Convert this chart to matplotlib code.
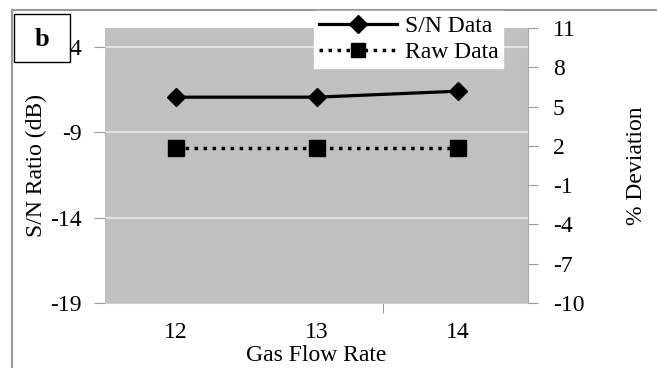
import matplotlib
matplotlib.use("Agg")
import matplotlib.pyplot as plt
from matplotlib.patches import Rectangle
from matplotlib.lines import Line2D

categories = ["12", "13", "14"]
sn_data = [-6.95, -6.95, -6.6]
raw_data = [1.8, 1.8, 1.8]
left_ticks = [-19, -14, -9, -4]
right_ticks = [-10, -7, -4, -1, 2, 5, 8, 11]

plt.rcParams['font.family'] = ['Liberation Serif', 'DejaVu Serif']
FS = 17
W, H = 657, 368
fig = plt.figure(figsize=(W / 100, H / 100), dpi=100)

ax = fig.add_axes([105 / W, 1 - 303 / H, (528 - 105) / W, (303 - 28) / H])
ax.set_facecolor('#c0c0c0')
x = list(range(len(categories)))
ax.set_xlim(-0.5, len(categories) - 0.5)
ax.set_ylim(-19, -2.9)
ax.set_yticks(left_ticks)
ax.set_yticklabels([str(t) for t in left_ticks], fontsize=FS)
for t in left_ticks[1:]:
    ax.axhline(t, color='#e2e2e2', lw=1.5, zorder=1)
ax.set_xticks(x)
ax.set_xticklabels(categories, fontsize=FS)
ax.set_xticks([1.47], minor=True)
ax.tick_params(axis='x', which='major', length=0, pad=14)
ax.tick_params(axis='x', which='minor', length=7, color='#888888', direction='out')
ax.tick_params(axis='y', length=8, color='#999999', pad=9)
for s in ['top', 'right', 'left']:
    ax.spines[s].set_visible(False)
ax.spines['bottom'].set_color('#cccccc')

ln1, = ax.plot(x, sn_data, color='black', lw=2.3, marker='D', ms=9, zorder=5)
ax.set_ylabel('S/N Ratio (dB)', fontsize=FS, labelpad=2)
ax.set_xlabel('Gas Flow Rate', fontsize=FS, labelpad=1)

ax2 = ax.twinx()
ax2.set_ylim(-10, 11)
ax2.set_yticks(right_ticks)
ax2.set_yticklabels([str(t) for t in right_ticks], fontsize=FS)
ax2.tick_params(axis='y', length=7, color='#999999', pad=11)
for s in ['top', 'left', 'bottom']:
    ax2.spines[s].set_visible(False)
ax2.spines['right'].set_color('#aaaaaa')
ln2, = ax2.plot(x, raw_data, color='black', lw=2.5, ls=(0, (1, 1.6)), marker='s', ms=11, zorder=5)
ax2.set_ylabel('% Deviation', fontsize=FS, labelpad=30)

leg = fig.legend([Line2D([], [], color='black', lw=2.3, marker='D', ms=9),
                  Line2D([], [], color='black', lw=2.5, ls=(0, (1, 1.6)), marker='s', ms=10)],
                 ['S/N Data', 'Raw Data'], loc='upper left',
                 bbox_to_anchor=(314 / W, 1 - 11 / H), fontsize=FS, frameon=True,
                 fancybox=False, edgecolor='white', framealpha=1, borderpad=0.2,
                 labelspacing=0.2, handlelength=3.3, handletextpad=0.35, borderaxespad=0)

# figure border lines
fig.add_artist(Line2D([12 / W, 12 / W], [0, 1 - 10 / H], color='#999999', lw=1.5))
fig.add_artist(Line2D([12 / W, 1], [1 - 10 / H, 1 - 10 / H], color='#999999', lw=1.5))

# "b" box
fig.add_artist(Rectangle((14 / W, 1 - 62 / H), 56 / W, 48 / H, facecolor='white',
                         edgecolor='black', lw=1, zorder=10))
fig.text(42 / W, 1 - 40 / H, 'b', fontsize=19, fontweight='bold', ha='center', va='center', zorder=11)

fig.savefig('out.png', dpi=100)
